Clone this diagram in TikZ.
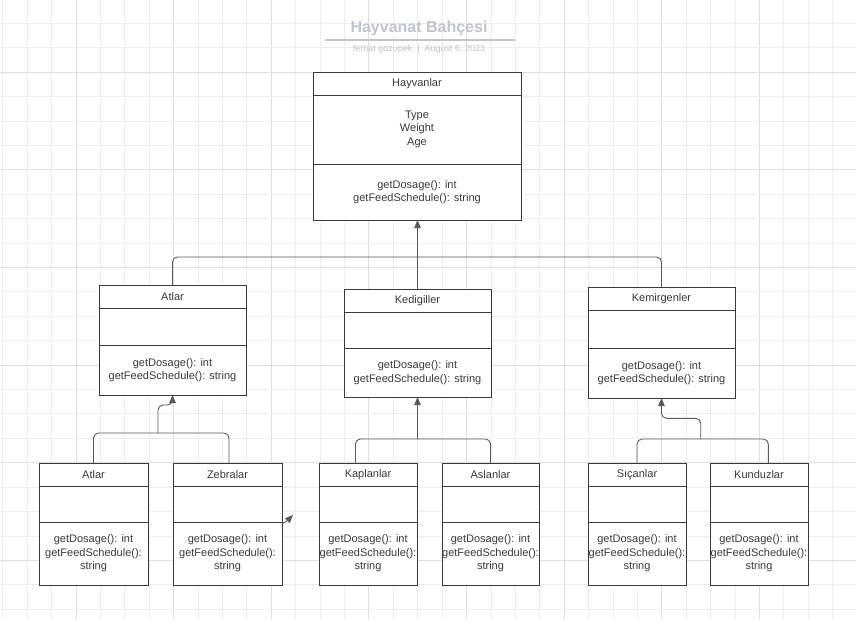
\documentclass[tikz,border=0pt]{standalone}
\usepackage{fontspec}
\setmainfont{Liberation Sans}
\usetikzlibrary{arrows.meta,calc}
\definecolor{gridminor}{HTML}{EEEEEE}
\definecolor{gridmajor}{HTML}{DEDEDE}
\definecolor{boxgray}{HTML}{3A3A3A}
\definecolor{linkgray}{HTML}{5A5A5A}
\definecolor{textgray}{HTML}{3A3A3A}
\definecolor{titlegray}{HTML}{C0C4CC}

\tikzset{
  classbox/.style={draw=boxgray, line width=1pt, fill=white, inner sep=0pt, outer sep=0pt, anchor=north west},
  boxline/.style={draw=boxgray, line width=1pt},
  member/.style={text=textgray, font=\fontsize{11}{13.6}\selectfont, align=center, inner sep=0pt},
  link/.style={draw=linkgray, line width=0.9pt, rounded corners=5pt},
  inherit/.style={link, -{Triangle[length=8pt,width=6.5pt]}},
}

\begin{document}
\begin{tikzpicture}[x=1pt, y=-1pt]
  \useasboundingbox (0,0) rectangle (856,619);
  \fill[white] (0,0) rectangle (856,619);

  % grid, every fourth line darker
  \foreach \k in {0,...,35} {
    \pgfmathtruncatemacro\m{mod(\k,4)}
    \ifnum\m=3 \def\gc{gridmajor}\else\def\gc{gridminor}\fi
    \draw[\gc, line width=0.8pt] ({2.7+24.41*\k},0) -- ({2.7+24.41*\k},619);
  }
  \foreach \k in {1,...,25} {
    \pgfmathtruncatemacro\m{mod(\k,4)}
    \ifnum\m=3 \def\gc{gridmajor}\else\def\gc{gridminor}\fi
    \draw[\gc, line width=0.8pt] (0,{-1.1+24.41*\k}) -- (856,{-1.1+24.41*\k});
  }

  % title
  \node[font=\fontsize{16}{19}\selectfont\bfseries, text=titlegray] (title) at (419,28) {Hayvanat Bahçesi};
  \draw[titlegray, line width=1.2pt] (325,40) -- (515,40);
  \node[font=\fontsize{9}{11}\selectfont, text=titlegray] (subtitle) at (419,49.5) {ferhat gozupek\hspace{5pt}|\hspace{5pt}August 6, 2023};

  % base class
  \node[classbox, minimum width=208pt, minimum height=148pt] (hayvanlar) at (313,72) {};
  \draw[boxline] (313,95.5) -- (521,95.5);
  \draw[boxline] (313,164) -- (521,164);
  \node[member] (hayvanlar-name) at (417,84) {Hayvanlar};
  \node[member] (hayvanlar-attr) at (417,129) {Type\\Weight\\Age};
  \node[member] (hayvanlar-ops) at (417,192) {getDosage(): int\\getFeedSchedule(): string};

  % middle row
  \foreach \id/\lbl/\xa/\xb/\ya/\sa/\sb/\yb in {atlar/Atlar/99/246/285/308/345/395,
      kedigiller/Kedigiller/344/491/289/312/348/397,
      kemirgenler/Kemirgenler/588/735/287/310/348/398} {
    \pgfmathsetmacro\w{\xb-\xa}
    \pgfmathsetmacro\h{\yb-\ya}
    \node[classbox, minimum width=\w pt, minimum height=\h pt] (\id) at (\xa,\ya) {};
    \draw[boxline] (\xa,\sa) -- (\xb,\sa);
    \draw[boxline] (\xa,\sb) -- (\xb,\sb);
    \node[member] (\id-name) at ({(\xa+\xb)/2},{(\ya+\sa)/2}) {\lbl};
    \node[member] (\id-ops) at ({(\xa+\xb)/2},{(\sb+\yb)/2}) {getDosage(): int\\getFeedSchedule(): string};
  }

  % bottom row
  \foreach \id/\lbl/\xa/\xb in {atlarb/Atlar/39/148, zebralar/Zebralar/173/282,
      kaplanlar/Kaplanlar/319/417, aslanlar/Aslanlar/442/539,
      sicanlar/Sıçanlar/588/686, kunduzlar/Kunduzlar/710/808} {
    \pgfmathsetmacro\w{\xb-\xa}
    \node[classbox, minimum width=\w pt, minimum height=122pt] (\id) at (\xa,463) {};
    \draw[boxline] (\xa,486) -- (\xb,486);
    \draw[boxline] (\xa,522) -- (\xb,522);
    \node[member] (\id-name) at ({(\xa+\xb)/2},474.5) {\lbl};
    \node[member] (\id-ops) at ({(\xa+\xb)/2},553.5) {getDosage(): int\\getFeedSchedule():\\string};
  }

  % inheritance
  \coordinate (top-join) at (417.5,257);
  \draw[link] (atlar.north) |- (top-join) -| (kemirgenler.north);
  \draw[inherit] (kedigiller.north) -- (kedigiller.north |- hayvanlar.south);

  \coordinate (atlar-join) at (158,433);
  \draw[link] (atlarb.north) |- (atlar-join) -| ([xshift=1.5pt]zebralar.north);
  \draw[inherit] (atlar-join) -- ++(0,-28) -| (atlar.south);

  \coordinate (kedi-join) at (417.5,439);
  \draw[link] ([xshift=-12.5pt]kaplanlar.north) |- (kedi-join) -| (aslanlar.north);
  \draw[inherit] (kedi-join) -- (kedigiller.south);

  \coordinate (kemir-join) at (700.7,439);
  \draw[link] (sicanlar.north) |- (kemir-join) -| ([xshift=9.3pt]kunduzlar.north);
  \draw[inherit] (kemir-join) -- ++(0,-20.7) -| (kemirgenler.south);

  \draw[inherit, rounded corners=2pt] ([yshift=1pt]zebralar.east) -- ++(3,0) -- ++(8,-8);
\end{tikzpicture}
\end{document}
